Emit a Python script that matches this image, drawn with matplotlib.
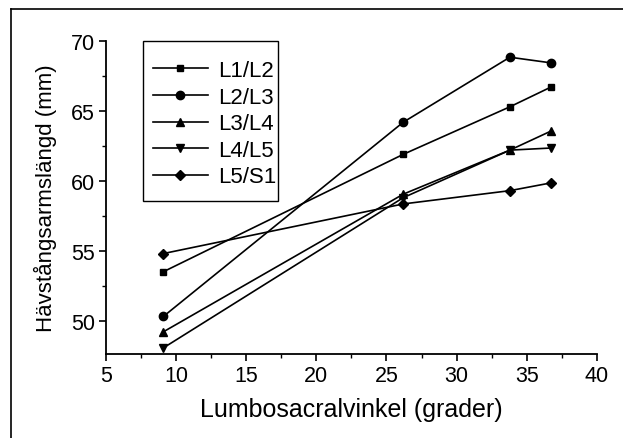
import matplotlib
matplotlib.use("Agg")
import matplotlib.pyplot as plt
from matplotlib.ticker import MultipleLocator
from matplotlib.lines import Line2D
from matplotlib.patches import Rectangle

plt.rcParams['font.family'] = ['Liberation Sans', 'DejaVu Sans']

x_vals = [9.1, 26.2, 33.8, 36.7]
labels = ["L1/L2", "L2/L3", "L3/L4", "L4/L5", "L5/S1"]
markers = ["s", "o", "^", "v", "D"]
l1_l2 = [53.5, 61.9, 65.3, 66.7]
l2_l3 = [50.3, 64.2, 68.85, 68.45]
l3_l4 = [49.2, 59.05, 62.2, 63.55]
l4_l5 = [48.05, 58.8, 62.2, 62.35]
l5_s1 = [54.8, 58.35, 59.3, 59.85]
series = [l1_l2, l2_l3, l3_l4, l4_l5, l5_s1]

fig = plt.figure(figsize=(6.23, 4.39), dpi=100)
ax = fig.add_axes([0.170, 0.191, 0.788, 0.713])

for ys, lab, m in zip(series, labels, markers):
    ms = {"s": 5, "o": 6, "^": 6, "v": 6, "D": 5.5}[m]
    ax.plot(x_vals, ys, color="black", linewidth=1.2, marker=m,
            markersize=ms, label=lab)

ax.set_xlim(5, 40)
ax.set_ylim(47.6, 70)
ax.xaxis.set_major_locator(MultipleLocator(5))
ax.xaxis.set_minor_locator(MultipleLocator(2.5))
ax.yaxis.set_major_locator(MultipleLocator(5))
ax.yaxis.set_minor_locator(MultipleLocator(2.5))
ax.spines['top'].set_visible(False)
ax.spines['right'].set_visible(False)
ax.spines['left'].set_linewidth(1.3)
ax.spines['bottom'].set_linewidth(1.3)
ax.tick_params(axis='both', which='major', direction='out', length=5,
               width=1.2, labelsize=15.5, pad=3)
ax.tick_params(axis='both', which='minor', direction='out', length=3, width=1)

ax.set_xlabel("Lumbosacralvinkel (grader)", fontsize=18, labelpad=8)
ax.set_ylabel("Hävstångsarmslängd (mm)", fontsize=16, labelpad=10)

leg = ax.legend(loc="upper left", bbox_to_anchor=(0.0957, 0.939),
                borderaxespad=0, borderpad=0, fontsize=16, frameon=False,
                handlelength=2.48, handletextpad=0.45, labelspacing=0.25)

# legend box
ax.add_patch(Rectangle((0.0754, 0.489), 0.2746, 0.511, transform=ax.transAxes,
                       fill=False, edgecolor="black", linewidth=1.0,
                       clip_on=False))

# figure frame lines (top and left)
fig.add_artist(Line2D([11/623, 1.0], [1 - 10/439, 1 - 10/439],
                      transform=fig.transFigure, color="black", linewidth=1.2))
fig.add_artist(Line2D([11/623, 11/623], [0.0, 1 - 10/439],
                      transform=fig.transFigure, color="black", linewidth=1.2))

fig.savefig("out.png", dpi=100)
